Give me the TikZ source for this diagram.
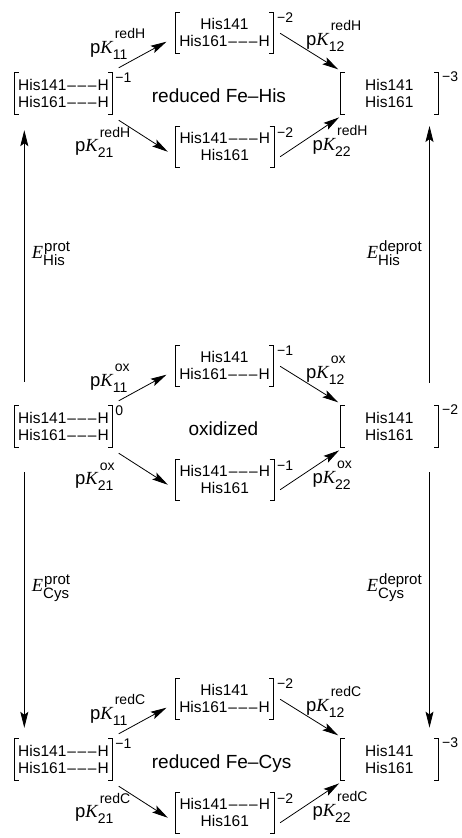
\documentclass[tikz,border=0pt]{standalone}
\usepackage{fontspec}
\setmainfont{Liberation Sans}
\newfontfamily\tms{Liberation Serif}
\usetikzlibrary{arrows.meta}

% stacked super- and subscript: #1 sup, #2 sub, #3 raise, #4 lower, #5 size
\newcommand\chemscr[5]{%
  \setbox0=\hbox{\fontsize{#5}{#5}\selectfont #1}%
  \setbox2=\hbox{\fontsize{#5}{#5}\selectfont #2}%
  \ifdim\wd0>\wd2 \dimen0=\wd0 \else \dimen0=\wd2 \fi
  \rlap{\raise#3\box0}\rlap{\lower#4\box2}\hskip\dimen0\relax}
\newcommand\pK[2]{p{\tms\itshape K}\chemscr{\kern2pt #1}{#2}{14.5pt}{6pt}{14}}
\newcommand\Epot[2]{{\tms\itshape E}\chemscr{\kern1pt #1}{#2}{6.6pt}{7.4pt}{15}}
% hydrogen bond drawn as three short dashes
\newcommand\hbond{\kern1pt–\kern1.6pt–\kern1.6pt–\kern1pt}

% square brackets round a species node
\newcommand\brk[1]{%
  \draw[bracket] ([xshift=4.5pt]#1.north west) -- (#1.north west) -- (#1.south west) -- ([xshift=4.5pt]#1.south west);
  \draw[bracket] ([xshift=-4.5pt]#1.north east) -- (#1.north east) -- (#1.south east) -- ([xshift=-4.5pt]#1.south east);}

\tikzset{
  species/.style={align=center, minimum width=98pt, minimum height=41pt, inner sep=0pt,
    font=\fontsize{15.5}{17}\selectfont},
  charge/.style={anchor=base west, inner sep=0pt, font=\fontsize{14}{14}\selectfont},
  grouplabel/.style={anchor=base west, inner sep=0pt, font=\fontsize{19}{20}\selectfont},
  eqlabel/.style={anchor=base west, inner sep=0pt, font=\fontsize{18.5}{20}\selectfont},
  bracket/.style={line width=0.9pt},
  reaction/.style={line width=0.8pt, -{Stealth[length=16pt,width=8pt,inset=3pt]}},
}

% one redox state: #1 y offset, #2 name suffix, #3 state name, #4 its x,
% #5 pK superscript, #6 #7 #8 charges (left, middle, right)
\newcommand\stategroup[8]{%
  \begin{scope}[yshift=-#1pt]
    \node[species] (L#2)  at (63.5,93.5)  {His141\hbond H\\His161\hbond H};
    \node[species] (TM#2) at (224.5,32.7) {His141\\His161\hbond H};
    \node[species] (BM#2) at (224.8,146.8) {His141\hbond H\\His161};
    \node[species] (R#2)  at (389.3,93.3) {His141\\His161};
    \brk{L#2}\brk{TM#2}\brk{BM#2}\brk{R#2}
    \node[charge] (qL#2)  at ([shift={(2.5,10)}]L#2.north east) {#6};
    \node[charge] (qTM#2) at ([shift={(3.2,10.3)}]TM#2.north east) {#7};
    \node[charge] (qBM#2) at ([shift={(3,11)}]BM#2.north east) {#7};
    \node[charge] (qR#2)  at ([shift={(3.4,8.4)}]R#2.north east) {#8};
    \node[grouplabel] (name#2) at (#4,102.5) {#3};
    \draw[reaction] ([shift={(6,-5)}]L#2.north east) -- ([shift={(-8.8,9)}]TM#2.west);
    \draw[reaction] ([shift={(6,6)}]L#2.south east) -- ([shift={(-7.8,4.9)}]BM#2.west);
    \draw[reaction] ([shift={(6.5,0.6)}]TM#2.east) -- ([shift={(-2,-3.3)}]R#2.north west);
    \draw[reaction] ([shift={(6.2,9.9)}]BM#2.east) -- ([shift={(-1,3.4)}]R#2.south west);
    \node[eqlabel] (k11#2) at (90,53)    {\pK{#5}{11}};
    \node[eqlabel] (k21#2) at (75,151.7) {\pK{#5}{21}};
    \node[eqlabel] (k12#2) at (306,45)   {\pK{#5}{12}};
    \node[eqlabel] (k22#2) at (312.3,150) {\pK{#5}{22}};
  \end{scope}}

\begin{document}
\begin{tikzpicture}[x=1pt,y=-1pt]
  \useasboundingbox (0,0) rectangle (461,838);

  \stategroup{0}{h}{reduced Fe–His}{151.7}{redH}{−1}{−2}{−3}
  \stategroup{333}{o}{oxidized}{188.3}{ox}{0}{−1}{−2}
  \stategroup{666}{c}{reduced Fe–Cys}{151.7}{redC}{−1}{−2}{−3}

  % redox steps between the states
  \draw[reaction] ([shift={(10,-24)}]Lo.north west) -- ([shift={(10,16)}]Lh.south west);
  \draw[reaction] ([shift={(-9,-23)}]Ro.north east) -- ([shift={(-9,12)}]Rh.south east);
  \draw[reaction] ([shift={(10,25)}]Lo.south west) -- ([shift={(10,-11)}]Lc.north west);
  \draw[reaction] ([shift={(-9,25)}]Ro.south east) -- ([shift={(-9,-11)}]Rc.north east);

  \node[eqlabel] (ehp) at (31.7,258)  {\Epot{prot}{His}};
  \node[eqlabel] (ehd) at (366.7,258) {\Epot{deprot}{His}};
  \node[eqlabel] (ecp) at (31.7,591)  {\Epot{prot}{Cys}};
  \node[eqlabel] (ecd) at (366.7,591) {\Epot{deprot}{Cys}};
\end{tikzpicture}
\end{document}
